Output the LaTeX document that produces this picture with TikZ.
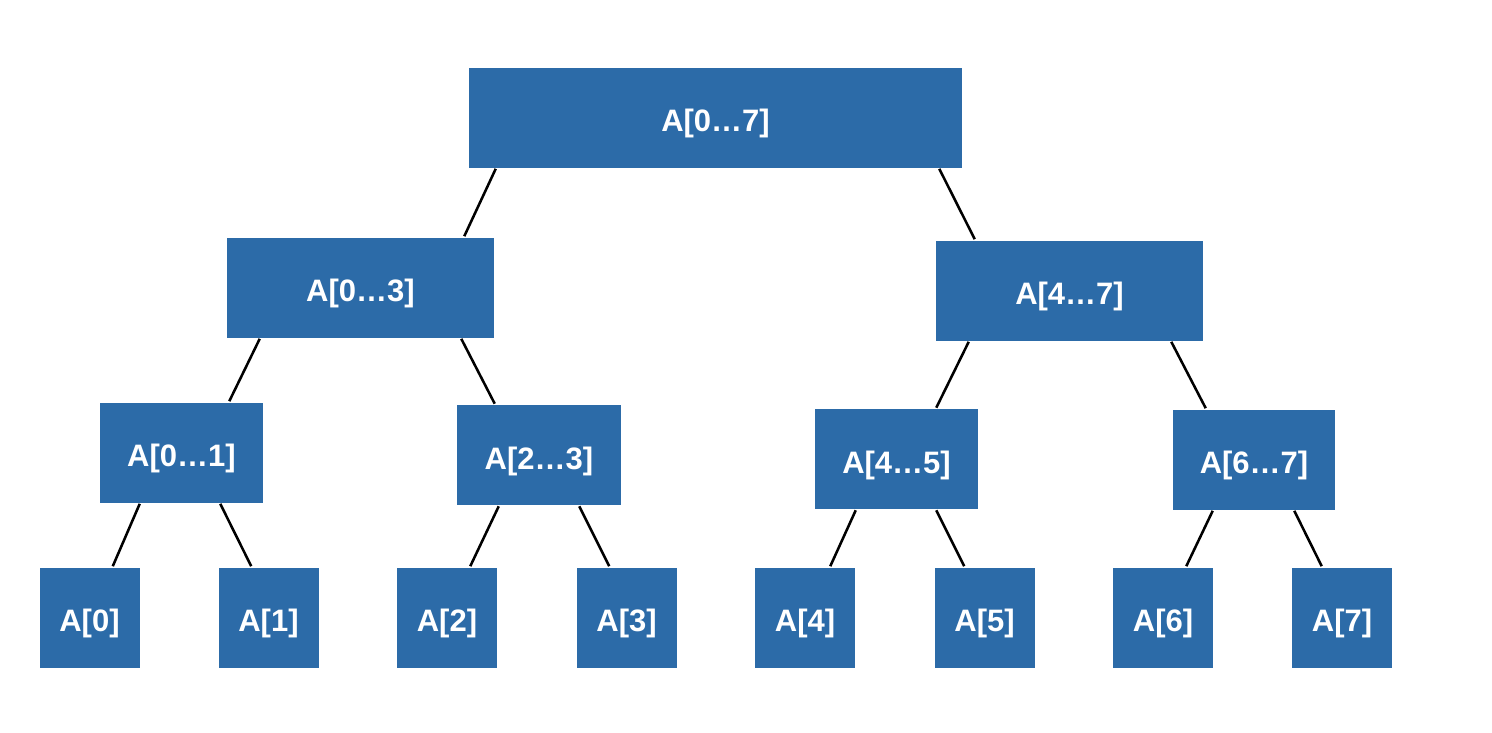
\documentclass[tikz,border=0pt]{standalone}
\usepackage{fontspec}
\setmainfont{Liberation Sans}
\usetikzlibrary{calc}
\definecolor{boxblue}{RGB}{44,107,168}
\tikzset{every picture/.style={line width=1.9pt}}
\tikzset{blk/.style={fill=boxblue, draw=none, text=white, inner sep=0pt, minimum height=75pt, text height=21pt, text depth=0pt, font=\fontsize{23.25}{28}\selectfont\bfseries}}

\begin{document}
\begin{tikzpicture}[x=0.75pt,y=0.75pt,yscale=-1, xscale=1]
\useasboundingbox (0,0) rectangle (1492,732);

%Boxes: top two levels
\node [blk, minimum width=369.75pt] (root) at (715.5,117.5) {A[0…7]};
\node [blk, minimum width=200.25pt] (n03) at (360.5,287.5) {A[0…3]};
\node [blk, minimum width=200.25pt] (n47) at (1069.5,290.5) {A[4…7]};

%Boxes: pairs
\node [blk, minimum width=122.25pt] (n01) at (181.5,452.5) {A[0…1]};
\node [blk, minimum width=123pt] (n23) at (539,455) {A[2…3]};
\node [blk, minimum width=122.25pt] (n45) at (896.5,459) {A[4…5]};
\node [blk, minimum width=121.5pt] (n67) at (1254,459.5) {A[6…7]};

%Boxes: leaves
\node [blk, minimum width=75pt] (a0) at (89.5,617.5) {A[0]};
\node [blk, minimum width=75pt] (a1) at (268.5,617.5) {A[1]};
\node [blk, minimum width=75pt] (a2) at (447,617.5) {A[2]};
\node [blk, minimum width=75pt] (a3) at (626.5,617.5) {A[3]};
\node [blk, minimum width=75pt] (a4) at (805,617.5) {A[4]};
\node [blk, minimum width=75pt] (a5) at (984.5,617.5) {A[5]};
\node [blk, minimum width=75pt] (a6) at (1163,617.5) {A[6]};
\node [blk, minimum width=75pt] (a7) at (1342,617.5) {A[7]};

%Edges
\draw ($(root.south west)+(28,0)$) -- ($(n03.north east)+(-31,0)$);
\draw ($(root.south east)+(-24,0)$) -- ($(n47.north west)+(40,0)$);
\draw ($(n03.south west)+(34,0)$) -- ($(n01.north east)+(-35,0)$);
\draw ($(n03.south east)+(-34,0)$) -- ($(n23.north west)+(39,0)$);
\draw ($(n47.south west)+(34,0)$) -- ($(n45.north east)+(-43,0)$);
\draw ($(n47.south east)+(-33,0)$) -- ($(n67.north west)+(34,0)$);
\draw ($(n01.south west)+(41,0)$) -- ($(a0.north east)+(-28,0)$);
\draw ($(n01.south east)+(-44,0)$) -- ($(a1.north west)+(34,0)$);
\draw ($(n23.south west)+(43,0)$) -- ($(a2.north east)+(-28,0)$);
\draw ($(n23.south east)+(-43,0)$) -- ($(a3.north west)+(34,0)$);
\draw ($(n45.south west)+(42,0)$) -- ($(a4.north east)+(-26,0)$);
\draw ($(n45.south east)+(-43,0)$) -- ($(a5.north west)+(31,0)$);
\draw ($(n67.south west)+(41,0)$) -- ($(a6.north east)+(-28,0)$);
\draw ($(n67.south east)+(-42,0)$) -- ($(a7.north west)+(31,0)$);
\end{tikzpicture}
\end{document}
